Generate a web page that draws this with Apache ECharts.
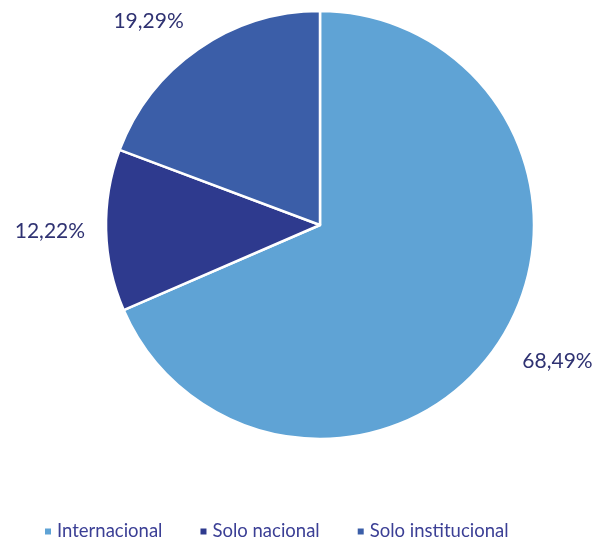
<!DOCTYPE html>
<html>
<head>
<meta charset="utf-8">
<script src="https://cdn.jsdelivr.net/npm/echarts@6/dist/echarts.min.js"></script>
<style>
html,body{margin:0;padding:0;background:#fff;}
#chart{width:607px;height:540px;}
</style>
</head>
<body>
<div id="chart"></div>
<script>
var categories = ['Internacional', 'Solo nacional', 'Solo institucional'];
var values = [68.49, 12.22, 19.29];
var labels = ['68,49%', '12,22%', '19,29%'];
var colors = ['#5fa3d5', '#2e3a8e', '#3b5ea8'];

var labelShift = [-5, -13, -5];

var chart = echarts.init(document.getElementById('chart'));
var data = categories.map(function (c, i) {
  return {
    name: c,
    value: values[i],
    itemStyle: { color: colors[i] },
    label: { distanceToLabelLine: labelShift[i] }
  };
});
chart.setOption({
  animation: false,
  legend: {
    data: categories,
    left: 38,
    top: 517,
    icon: 'rect',
    itemWidth: 8,
    itemHeight: 8,
    itemGap: 36,
    itemTextGap: 4,
    textStyle: { fontFamily: 'Lato', fontSize: 18.5, color: '#3b3f95' }
  },
  series: [{
    type: 'pie',
    center: [320, 225],
    radius: 214,
    startAngle: 90,
    clockwise: true,
    avoidLabelOverlap: false,
    data: data,
    itemStyle: { borderColor: '#ffffff', borderWidth: 2.5 },
    label: {
      show: true,
      position: 'outside',
      formatter: function (p) { return labels[p.dataIndex]; },
      fontFamily: 'Lato',
      fontSize: 21,
      color: '#2f3272'
    },
    labelLine: { show: false, length: 34, length2: 0 },
    emphasis: { disabled: true }
  }]
});
</script>
</body>
</html>
